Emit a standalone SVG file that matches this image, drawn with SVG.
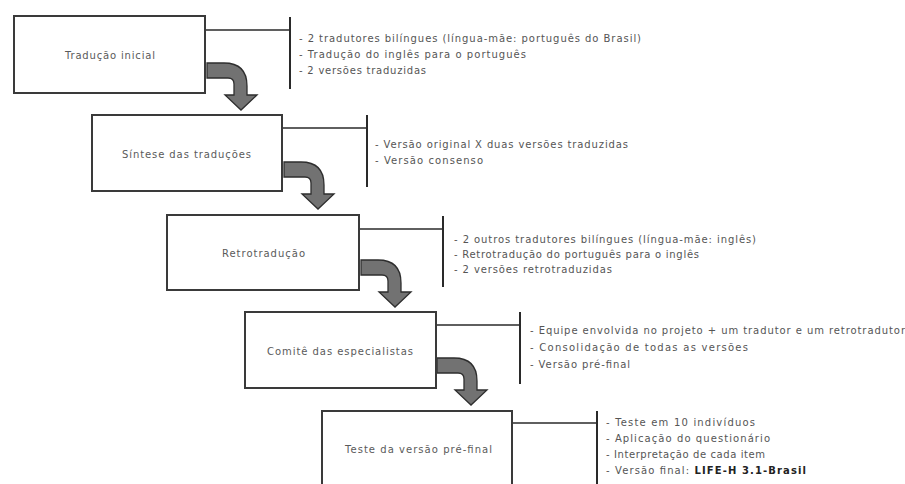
<svg xmlns="http://www.w3.org/2000/svg" width="905" height="484" viewBox="0 0 905 484">
<style>
.box{fill:#fff;stroke:#3a3a3a;stroke-width:2}
.lbl{font-family:"DejaVu Sans","Liberation Sans",sans-serif;font-size:10px;fill:#5a5a5a}
.txt{font-family:"DejaVu Sans","Liberation Sans",sans-serif;font-size:10px;fill:#555}
.ln{stroke:#2a2a2a;stroke-width:1.5;fill:none}
.br{stroke:#2a2a2a;stroke-width:2;fill:none}
.arr{fill:#727272;stroke:#2e2e2e;stroke-width:1.3;stroke-linejoin:miter}
</style>
<defs>
<path id="bend" d="M207,63 L224,63 Q247,63 247,86 L247,95 L257,95 L241,110 L225,95 L234,95 L234,84 Q234,78 228,78 L207,78 Z"/>
</defs>
<rect width="905" height="484" fill="#fff"/>
<g id="connectors">
<path class="ln" d="M205,30 H290"/>
<path class="br" d="M290,17 V89"/>
<path class="ln" d="M282,128 H367"/>
<path class="br" d="M367,115 V187"/>
<path class="ln" d="M359,229 H443"/>
<path class="br" d="M443,216 V287"/>
<path class="ln" d="M436,325 H520"/>
<path class="br" d="M520,312 V384"/>
<path class="ln" d="M512,423 H597"/>
<path class="br" d="M597,411 V484"/>
<use href="#bend" class="arr"/>
<use href="#bend" class="arr" transform="translate(77,99)"/>
<use href="#bend" class="arr" transform="translate(154,197)"/>
<use href="#bend" class="arr" transform="translate(230,295)"/>
</g>
<g id="n1">
<rect class="box" x="14" y="16" width="191" height="77"/>
<text class="lbl" x="65" y="59" textLength="90" lengthAdjust="spacing">Tradução inicial</text>
</g>
<g id="n1-notes">
<text class="txt" x="299" y="42" textLength="342" lengthAdjust="spacing">- 2  tradutores bilíngues (língua-mãe: português do Brasil)</text>
<text class="txt" x="299" y="58" textLength="227" lengthAdjust="spacing">- Tradução do inglês para o português</text>
<text class="txt" x="299" y="74" textLength="127" lengthAdjust="spacing">- 2 versões traduzidas</text>
</g>
<g id="n2">
<rect class="box" x="92" y="115" width="190" height="76"/>
<text class="lbl" x="122" y="158" textLength="129" lengthAdjust="spacing">Síntese das traduções</text>
</g>
<g id="n2-notes">
<text class="txt" x="375" y="148" textLength="253" lengthAdjust="spacing">- Versão original X duas versões traduzidas</text>
<text class="txt" x="375" y="164" textLength="108" lengthAdjust="spacing">- Versão consenso</text>
</g>
<g id="n3">
<rect class="box" x="167" y="215" width="192" height="75"/>
<text class="lbl" x="222" y="257" textLength="83" lengthAdjust="spacing">Retrotradução</text>
</g>
<g id="n3-notes">
<text class="txt" x="454" y="243" textLength="302" lengthAdjust="spacing">- 2 outros tradutores bilíngues (língua-mãe: inglês)</text>
<text class="txt" x="454" y="258" textLength="245" lengthAdjust="spacing">- Retrotradução do português para o inglês</text>
<text class="txt" x="454" y="273" textLength="158" lengthAdjust="spacing">- 2 versões retrotraduzidas</text>
</g>
<g id="n4">
<rect class="box" x="245" y="312" width="191" height="76"/>
<text class="lbl" x="267" y="355" textLength="146" lengthAdjust="spacing">Comitê das especialistas</text>
</g>
<g id="n4-notes">
<text class="txt" x="530" y="334" textLength="375" lengthAdjust="spacing">- Equipe envolvida no projeto + um tradutor e um retrotradutor</text>
<text class="txt" x="530" y="351" textLength="218" lengthAdjust="spacing">- Consolidação de todas as versões</text>
<text class="txt" x="530" y="368" textLength="100" lengthAdjust="spacing">- Versão pré-final</text>
</g>
<g id="n5">
<rect class="box" x="322" y="411" width="190" height="80"/>
<text class="lbl" x="345" y="453" textLength="147" lengthAdjust="spacing">Teste da versão pré-final</text>
</g>
<g id="n5-notes">
<text class="txt" x="606" y="426" textLength="149" lengthAdjust="spacing">- Teste em 10 indivíduos</text>
<text class="txt" x="606" y="442" textLength="164" lengthAdjust="spacing">- Aplicação do questionário</text>
<text class="txt" x="606" y="458" textLength="159" lengthAdjust="spacing">- Interpretação de cada item</text>
<text class="txt" x="606" y="474" textLength="200" lengthAdjust="spacing">- Versão final: <tspan font-weight="bold" fill="#222">LIFE-H 3.1-Brasil</tspan></text>
</g>
</svg>
